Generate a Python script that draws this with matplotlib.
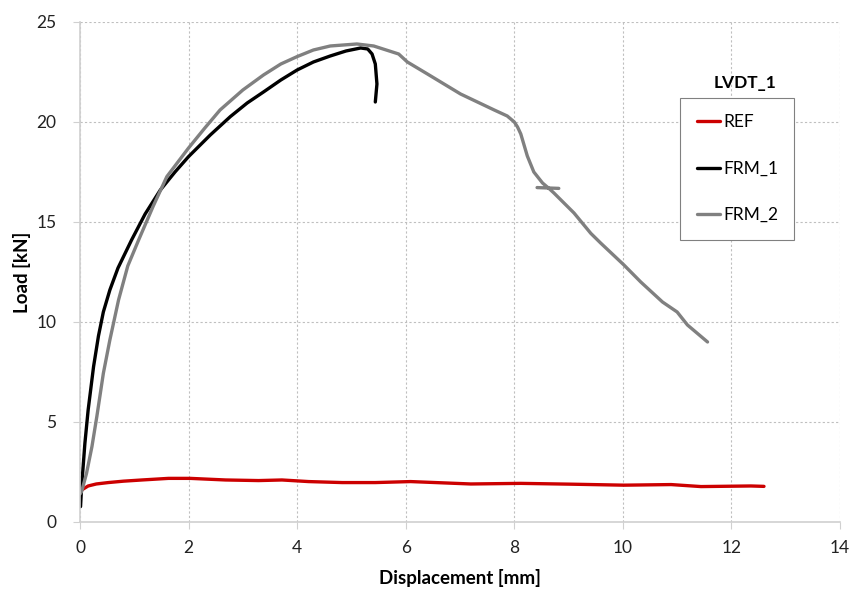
import matplotlib.pyplot as plt

plt.rcParams['font.family'] = ['Lato', 'DejaVu Sans']

nan = float('nan')

# REF curve (displacement mm, load kN)
ref_x = [0.0, 0.03, 0.15, 0.3, 0.52, 0.8, 1.14, 1.63, 2.03, 2.68, 3.29, 3.72, 4.21, 4.83,
         5.44, 6.09, 7.2, 8.12, 9.04, 10.02, 10.89, 11.44, 12.36, 12.6]
ref_y = [1.52, 1.6, 1.8, 1.9, 1.97, 2.04, 2.1, 2.18, 2.18, 2.1, 2.07, 2.1, 2.02, 1.97,
         1.97, 2.02, 1.9, 1.93, 1.89, 1.84, 1.87, 1.77, 1.8, 1.78]

# FRM_1
frm1_x = [0.01, 0.03, 0.09, 0.15, 0.25, 0.34, 0.43, 0.55, 0.7, 0.95, 1.2, 1.48, 1.75,
          2.0, 2.4, 2.77, 3.08, 3.38, 3.7, 4.0, 4.3, 4.61, 4.9, 5.17, 5.3, 5.38,
          5.44, 5.47, 5.44]
frm1_y = [0.77, 1.77, 3.93, 5.6, 7.77, 9.3, 10.5, 11.6, 12.7, 14.1, 15.4, 16.6, 17.5,
          18.27, 19.35, 20.27, 20.95, 21.5, 22.1, 22.6, 23.0, 23.3, 23.55, 23.7, 23.65,
          23.4, 22.9, 21.9, 21.0]

# FRM_2 (short stray segment near 8.6 mm after the gap)
frm2_x = [0.0, 0.03, 0.12, 0.22, 0.31, 0.43, 0.55, 0.71, 0.88, 1.08, 1.35, 1.6, 2.0,
          2.3, 2.58, 3.0, 3.38, 3.7, 4.0, 4.3, 4.61, 5.1, 5.41, 5.87, 6.03, 6.4,
          7.01, 7.63, 7.87, 8.0, 8.06, 8.12, 8.24, 8.36, 8.52, 8.65, 8.73, 9.1, 9.41,
          9.59, 10.02, 10.33, 10.73, 11.0, 11.19, 11.56, nan, 8.42, 8.82]
frm2_y = [1.4, 1.52, 2.43, 3.77, 5.27, 7.43, 9.1, 11.1, 12.8, 14.1, 15.8, 17.27, 18.7,
          19.7, 20.6, 21.6, 22.35, 22.9, 23.27, 23.6, 23.8, 23.9, 23.8, 23.4, 23.0, 22.4,
          21.4, 20.6, 20.3, 20.0, 19.75, 19.4, 18.3, 17.5, 16.95, 16.65, 16.45, 15.45,
          14.43, 13.95, 12.85, 12.0, 11.0, 10.5, 9.85, 9.0, nan, 16.72, 16.68]

series = [('REF', ref_x, ref_y, '#cc0000'),
          ('FRM_1', frm1_x, frm1_y, '#000000'),
          ('FRM_2', frm2_x, frm2_y, '#808080')]

fig = plt.figure(figsize=(8.52, 5.91), dpi=100)
ax = fig.add_axes([0.0939, 0.1168, 0.892, 0.846])

for name, x, y, c in series:
    ax.plot(x, y, color=c, lw=2.4, label=name, solid_capstyle='round')

ax.set_xlim(0, 14)
ax.set_ylim(0, 25)
ax.set_xticks(range(0, 15, 2))
ax.set_yticks(range(0, 26, 5))
ax.grid(True, color='#bfbfbf', linestyle=(0, (2, 2)), lw=0.8)
ax.set_axisbelow(True)
for s in ['top', 'right']:
    ax.spines[s].set_visible(False)
for s in ['left', 'bottom']:
    ax.spines[s].set_color('#d0d0d0')
    ax.spines[s].set_linewidth(1.2)
ax.tick_params(colors='#d0d0d0', labelcolor='#222222', labelsize=12.5, length=5)
ax.tick_params(axis='y', pad=12)
ax.tick_params(axis='x', pad=8)

ax.set_xlabel('Displacement [mm]', fontsize=13.5, fontweight='bold', labelpad=9)
ax.set_ylabel('Load [kN]', fontsize=13.5, fontweight='bold', labelpad=4)

leg = ax.legend(loc='upper left', bbox_to_anchor=(0.79, 0.848), fontsize=12.5,
                handlelength=1.35, handletextpad=0.15, labelspacing=1.75,
                borderpad=0.95, borderaxespad=0, fancybox=False,
                edgecolor='#808080', framealpha=1)
leg.get_frame().set_linewidth(0.8)
ax.text(0.875, 0.878, 'LVDT_1', transform=ax.transAxes, ha='center', va='center',
        fontsize=12.5, fontweight='bold')

fig.savefig('out.png', dpi=100)
